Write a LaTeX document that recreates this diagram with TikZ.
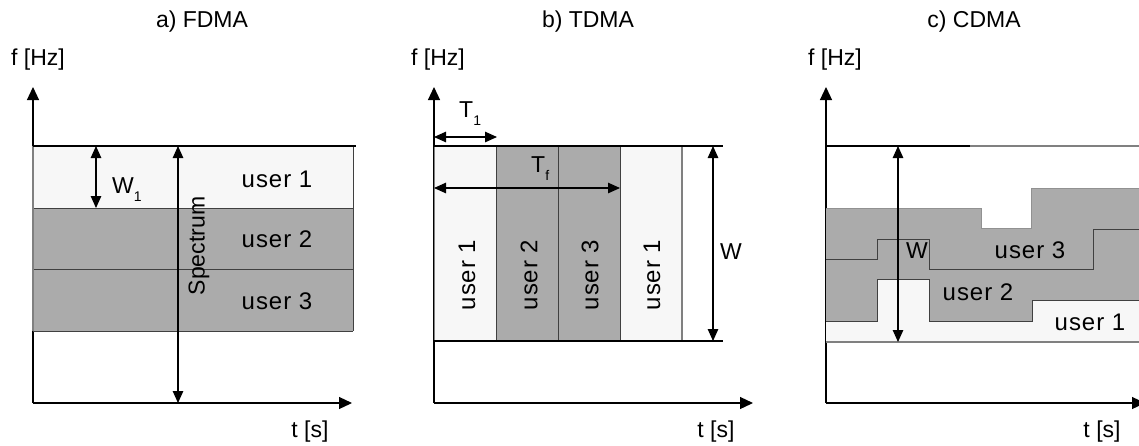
\documentclass[tikz,border=0pt]{standalone}
\usepackage{fontspec}
\setmainfont{Liberation Sans}
\newfontfamily\userfont[LetterSpace=4]{Liberation Sans}
\usetikzlibrary{arrows.meta}
\definecolor{ulight}{HTML}{F7F7F7}
\definecolor{udark}{HTML}{ABABAB}
\definecolor{edgedark}{HTML}{404040}
\definecolor{edgegray}{HTML}{808080}
\newcommand\lowsub[1]{\raisebox{-8pt}{\fontsize{14}{14}\selectfont #1}}
\begin{document}
\begin{tikzpicture}[x=1pt,y=-1pt,
  lbl/.style={font=\fontsize{23}{27}\selectfont, inner sep=0pt},
  ulbl/.style={font=\userfont\fontsize{24}{28}\selectfont, inner sep=0pt},
  axisarrow/.style={line width=1.2pt, -{Triangle[length=13pt,width=12pt]}},
  dimarrow/.style={line width=1.1pt, {Triangle[length=12pt,width=10.5pt]}-{Triangle[length=12pt,width=10.5pt]}},
  darkline/.style={draw=edgedark, line width=1pt},
  grayline/.style={draw=edgegray, line width=1.1pt},
  rulel/.style={draw=black, line width=1.1pt},
]
\useasboundingbox (0,0) rectangle (1139,445);
\fill[white] (0,0) rectangle (1139,445);

% ================= a) FDMA =================
\coordinate (aO) at (33,403);
\coordinate (aY) at (33,87);
\coordinate (aX) at (352,403);
\draw[axisarrow] (aO) -- (aY);
\draw[axisarrow] (aO) -- (aX);
\fill[ulight] (33,146) rectangle (353,208);
\fill[udark] (33,208) rectangle (353,331);
\draw[darkline] (33,208) -- (353,208) (33,269) -- (353,269) (33,331) -- (353,331) (353,146) -- (353,331);
\draw[grayline] (33,146) -- (33,331);
\draw[rulel] (33,146) -- (356,146);
\coordinate (aW1t) at (96,146);
\coordinate (aW1b) at (96,208);
\draw[dimarrow] (aW1t) -- (aW1b);
\coordinate (aSt) at (178,146);
\coordinate (aSb) at (178,403);
\draw[dimarrow] (aSt) -- (aSb);
\node[lbl] (aTitle) at (202,22) {a) FDMA};
\node[lbl] (aF) at (38,60) {f [Hz]};
\node[lbl] (aT) at (310,432) {t [s]};
\node[lbl, anchor=base west] (aW1) at (112,193) {W\lowsub{1}};
\node[lbl, rotate=90] (aSpec) at (199,246) {Spectrum};
\node[ulbl] (aU1) at (277,179) {user 1};
\node[ulbl] (aU2) at (277,239) {user 2};
\node[ulbl] (aU3) at (277,301) {user 3};

% ================= b) TDMA =================
\coordinate (bO) at (434,403);
\coordinate (bY) at (434,87);
\coordinate (bX) at (753,403);
\draw[axisarrow] (bO) -- (bY);
\draw[axisarrow] (bO) -- (bX);
\fill[ulight] (434,146) rectangle (496,341);
\fill[udark] (496,146) rectangle (620,341);
\fill[ulight] (620,146) rectangle (682,341);
\draw[grayline] (434.5,146) -- (434.5,341) (682,146) -- (682,341);
\draw[darkline] (496,146) -- (496,341) (558,146) -- (558,341) (620,146) -- (620,341);
\draw[rulel] (434,146) -- (723,146) (434,341) -- (723,341);
\coordinate (bT1a) at (434,137);
\coordinate (bT1b) at (497,137);
\draw[dimarrow] (bT1a) -- (bT1b);
\coordinate (bTfa) at (434,188);
\coordinate (bTfb) at (620,188);
\draw[dimarrow] (bTfa) -- (bTfb);
\coordinate (bWt) at (713,146);
\coordinate (bWb) at (713,341);
\draw[dimarrow] (bWt) -- (bWb);
\node[lbl] (bTitle) at (588,22) {b) TDMA};
\node[lbl] (bF) at (438,60) {f [Hz]};
\node[lbl] (bT) at (716,432) {t [s]};
\node[lbl, anchor=base west] (bT1) at (459,117) {T\lowsub{1}};
\node[lbl, anchor=base west] (bTf) at (531,172) {T\lowsub{f}};
\node[lbl] (bW) at (731,252) {W};
\node[ulbl, rotate=90] (bU1) at (467,275) {user 1};
\node[ulbl, rotate=90] (bU2) at (529,275) {user 2};
\node[ulbl, rotate=90] (bU3) at (590,275) {user 3};
\node[ulbl, rotate=90] (bU1b) at (652,275) {user 1};

% ================= c) CDMA =================
\coordinate (cO) at (826,403);
\coordinate (cY) at (826,87);
\coordinate (cX) at (1145,403);
\draw[axisarrow] (cO) -- (cY);
\draw[axisarrow] (cO) -- (cX);
\fill[ulight] (826,321) -- (877,321) -- (877,279) -- (929,279) -- (929,321) -- (1032,321) -- (1032,300) -- (1139,300) -- (1139,342) -- (826,342) -- cycle;
\fill[udark] (826,208) -- (981,208) -- (981,228) -- (1031,228) -- (1031,188) -- (1139,188) -- (1139,300) -- (1032,300) -- (1032,321) -- (929,321) -- (929,279) -- (877,279) -- (877,321) -- (826,321) -- cycle;
\draw[draw=udark!85!black, line width=0.8pt] (826,208) -- (981,208) -- (981,228) -- (1031,228) -- (1031,188) -- (1139,188);
\draw[darkline] (826,259) -- (877,259) -- (877,239) -- (929,239) -- (929,269) -- (1093,269) -- (1093,229) -- (1139,229);
\draw[darkline] (826,321) -- (877,321) -- (877,279) -- (929,279) -- (929,321) -- (1032,321) -- (1032,300) -- (1139,300);
\draw[rulel] (826,146) -- (970,146);
\draw[grayline] (970,146) -- (1139,146) (826,342) -- (1139,342);
\coordinate (cWt) at (898,146);
\coordinate (cWb) at (898,342);
\draw[dimarrow] (cWt) -- (cWb);
\node[lbl] (cTitle) at (974,22) {c) CDMA};
\node[lbl] (cF) at (835,60) {f [Hz]};
\node[lbl] (cT) at (1102,432) {t [s]};
\node[lbl] (cW) at (917,251) {W};
\node[ulbl] (cU3) at (1030,250) {user 3};
\node[ulbl] (cU2) at (978,292) {user 2};
\node[ulbl] (cU1) at (1090,322) {user 1};
\end{tikzpicture}
\end{document}
